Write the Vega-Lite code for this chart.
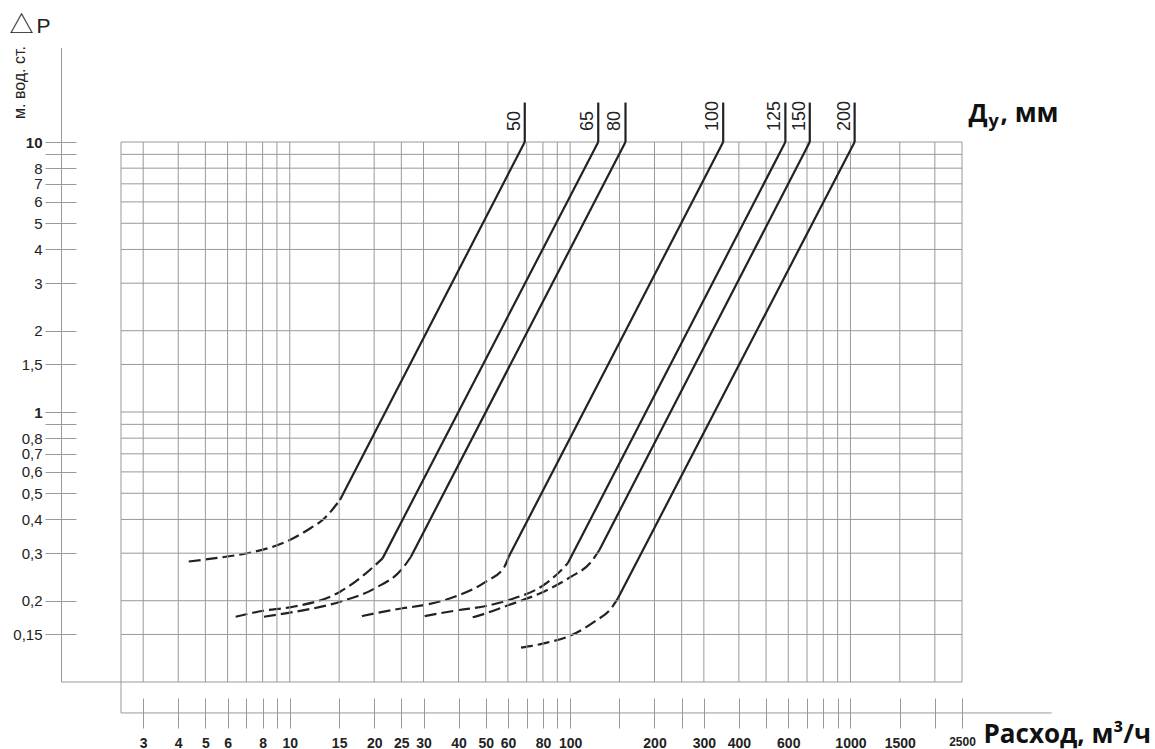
{
  "$schema": "https://vega.github.io/schema/vega-lite/v6.json",
  "width": 841,
  "height": 540,
  "autosize": {"type": "none"},
  "padding": {"left": 121, "top": 142, "right": 193, "bottom": 67},
  "background": "white",
  "config": {"view": {"stroke": null}},
  "datasets": {
    "hgrid": [{"v": 0.15}, {"v": 0.2}, {"v": 0.3}, {"v": 0.4}, {"v": 0.5}, {"v": 0.6}, {"v": 0.7}, {"v": 0.8}, {"v": 0.9}, {"v": 1}, {"v": 1.5}, {"v": 2}, {"v": 3}, {"v": 4}, {"v": 5}, {"v": 6}, {"v": 7}, {"v": 8}, {"v": 9}, {"v": 10}],
    "vgrid": [{"v": 3}, {"v": 4}, {"v": 5}, {"v": 6}, {"v": 7}, {"v": 8}, {"v": 9}, {"v": 10}, {"v": 15}, {"v": 20}, {"v": 25}, {"v": 30}, {"v": 40}, {"v": 50}, {"v": 60}, {"v": 70}, {"v": 80}, {"v": 90}, {"v": 100}, {"v": 150}, {"v": 200}, {"v": 250}, {"v": 300}, {"v": 400}, {"v": 500}, {"v": 600}, {"v": 700}, {"v": 800}, {"v": 900}, {"v": 1000}, {"v": 1500}, {"v": 2000}, {"v": 2500}],
    "curves": [
      {"dn": "50", "seg": "d", "q": 4.36, "p": 0.2795},
      {"dn": "50", "seg": "d", "q": 5.91, "p": 0.291},
      {"dn": "50", "seg": "d", "q": 7.06, "p": 0.2997},
      {"dn": "50", "seg": "d", "q": 10.0, "p": 0.3357},
      {"dn": "50", "seg": "d", "q": 11.89, "p": 0.372},
      {"dn": "50", "seg": "d", "q": 13.09, "p": 0.398},
      {"dn": "50", "seg": "d", "q": 15.1, "p": 0.472},
      {"dn": "50", "seg": "s", "q": 15.1, "p": 0.472},
      {"dn": "50", "seg": "s", "q": 68.9, "p": 10},
      {"dn": "65", "seg": "d", "q": 6.41, "p": 0.1745},
      {"dn": "65", "seg": "d", "q": 8.05, "p": 0.1836},
      {"dn": "65", "seg": "d", "q": 10.0, "p": 0.189},
      {"dn": "65", "seg": "d", "q": 15.12, "p": 0.216},
      {"dn": "65", "seg": "d", "q": 18.68, "p": 0.2527},
      {"dn": "65", "seg": "d", "q": 21.43, "p": 0.287},
      {"dn": "65", "seg": "s", "q": 21.43, "p": 0.287},
      {"dn": "65", "seg": "s", "q": 126, "p": 10},
      {"dn": "80", "seg": "d", "q": 8.09, "p": 0.1745},
      {"dn": "80", "seg": "d", "q": 10.0, "p": 0.1806},
      {"dn": "80", "seg": "d", "q": 15.12, "p": 0.1983},
      {"dn": "80", "seg": "d", "q": 20.12, "p": 0.2223},
      {"dn": "80", "seg": "d", "q": 25.26, "p": 0.2637},
      {"dn": "80", "seg": "d", "q": 27.05, "p": 0.291},
      {"dn": "80", "seg": "s", "q": 27.05, "p": 0.291},
      {"dn": "80", "seg": "s", "q": 157.6, "p": 10},
      {"dn": "100", "seg": "d", "q": 18.08, "p": 0.1755},
      {"dn": "100", "seg": "d", "q": 25.26, "p": 0.1875},
      {"dn": "100", "seg": "d", "q": 30.27, "p": 0.1928},
      {"dn": "100", "seg": "d", "q": 40.24, "p": 0.21},
      {"dn": "100", "seg": "d", "q": 50.1, "p": 0.2352},
      {"dn": "100", "seg": "d", "q": 58.3, "p": 0.2673},
      {"dn": "100", "seg": "d", "q": 60.4, "p": 0.291},
      {"dn": "100", "seg": "s", "q": 60.4, "p": 0.291},
      {"dn": "100", "seg": "s", "q": 351.6, "p": 10},
      {"dn": "125", "seg": "d", "q": 30.27, "p": 0.1755},
      {"dn": "125", "seg": "d", "q": 40.24, "p": 0.1848},
      {"dn": "125", "seg": "d", "q": 50.1, "p": 0.1912},
      {"dn": "125", "seg": "d", "q": 60.4, "p": 0.2012},
      {"dn": "125", "seg": "d", "q": 80.5, "p": 0.2287},
      {"dn": "125", "seg": "d", "q": 90.6, "p": 0.2527},
      {"dn": "125", "seg": "d", "q": 98.1, "p": 0.2752},
      {"dn": "125", "seg": "s", "q": 98.1, "p": 0.2752},
      {"dn": "125", "seg": "s", "q": 586, "p": 10},
      {"dn": "150", "seg": "d", "q": 44.93, "p": 0.1736},
      {"dn": "150", "seg": "d", "q": 50.1, "p": 0.1797},
      {"dn": "150", "seg": "d", "q": 60.4, "p": 0.1928},
      {"dn": "150", "seg": "d", "q": 80.5, "p": 0.216},
      {"dn": "150", "seg": "d", "q": 100.8, "p": 0.2455},
      {"dn": "150", "seg": "d", "q": 117.9, "p": 0.2757},
      {"dn": "150", "seg": "d", "q": 127.2, "p": 0.3083},
      {"dn": "150", "seg": "s", "q": 127.2, "p": 0.3083},
      {"dn": "150", "seg": "s", "q": 716, "p": 10},
      {"dn": "200", "seg": "d", "q": 66.8, "p": 0.134},
      {"dn": "200", "seg": "d", "q": 80.5, "p": 0.139},
      {"dn": "200", "seg": "d", "q": 100.8, "p": 0.149},
      {"dn": "200", "seg": "d", "q": 122.1, "p": 0.1672},
      {"dn": "200", "seg": "d", "q": 140.1, "p": 0.1875},
      {"dn": "200", "seg": "d", "q": 148.1, "p": 0.2042},
      {"dn": "200", "seg": "s", "q": 148.1, "p": 0.2042},
      {"dn": "200", "seg": "s", "q": 1035, "p": 10}
    ],
    "labels": [
      {"dn": "50", "q": 68.9},
      {"dn": "65", "q": 126},
      {"dn": "80", "q": 157.6},
      {"dn": "100", "q": 351.6},
      {"dn": "125", "q": 586},
      {"dn": "150", "q": 716},
      {"dn": "200", "q": 1035}
    ]
  },
  "layer": [
    {
      "data": {"name": "curves"},
      "transform": [{"filter": "datum.seg == 'd'"}],
      "mark": {"type": "line", "color": "#222222", "strokeWidth": 2.2, "strokeDash": [12, 5], "interpolate": "monotone"},
      "encoding": {
        "detail": {"field": "dn"},
        "x": {
          "field": "q", "type": "quantitative",
          "scale": {"type": "log", "domain": [2.5, 2500], "nice": false},
          "axis": {
            "values": [3, 4, 5, 6, 7, 8, 9, 10, 15, 20, 25, 30, 40, 50, 60, 70, 80, 90, 100, 150, 200, 250, 300, 400, 500, 600, 700, 800, 900, 1000, 1500, 2000, 2500],
            "labelExpr": "indexof([7, 9, 70, 90, 150, 250, 500, 700, 800, 900, 2000], datum.value) >= 0 ? '' : toString(datum.value)",
            "offset": 16, "tickSize": 30, "domain": false, "grid": false,
            "tickColor": "#999999", "tickWidth": 1,
            "labelFont": "Liberation Sans", "labelFontWeight": "bold", "labelColor": "#222222",
            "labelFontSize": {"condition": {"test": "datum.value == 2500", "value": 12}, "value": 14},
            "labelPadding": 8, "labelOverlap": false, "labelFlush": false, "labelBound": false,
            "title": "Расход, м³/ч", "titleFont": "Open Sans", "titleFontSize": 26, "titleFontWeight": "bold", "titleColor": "#111111",
            "titleX": 862, "titleY": 44, "titleAlign": "left", "titleBaseline": "alphabetic", "titleAngle": 0
          }
        },
        "y": {
          "field": "p", "type": "quantitative",
          "scale": {"type": "log", "domain": [0.1, 10], "nice": false},
          "axis": {
            "values": [0.15, 0.2, 0.3, 0.4, 0.5, 0.6, 0.7, 0.8, 0.9, 1, 1.5, 2, 3, 4, 5, 6, 7, 8, 9, 10],
            "labelExpr": "datum.value == 0.9 || datum.value == 9 ? '' : replace(toString(datum.value), '.', ',')",
            "offset": 45, "tickSize": 31, "domain": false, "grid": false,
            "tickColor": "#999999", "tickWidth": 1,
            "labelFont": "Liberation Sans", "labelColor": "#222222", "labelFontSize": 15,
            "labelFontWeight": {"condition": {"test": "datum.value == 1 || datum.value == 10", "value": "bold"}, "value": "normal"},
            "labelPadding": 3, "labelOverlap": false, "labelFlush": false, "labelBound": false,
            "title": "м. вод. ст.", "titleFont": "Liberation Sans", "titleFontSize": 16, "titleFontWeight": "normal", "titleColor": "#222222",
            "titleAngle": 270, "titleX": -57, "titleY": -60, "titleAlign": "center", "titleBaseline": "middle"
          }
        }
      }
    },
    {
      "data": {"name": "hgrid"},
      "mark": {"type": "rule", "color": "#999999", "strokeWidth": 1},
      "encoding": {
        "y": {"field": "v", "type": "quantitative", "scale": {"type": "log", "domain": [0.1, 10], "nice": false}},
        "x": {"datum": 2.5, "type": "quantitative", "scale": {"type": "log", "domain": [2.5, 2500], "nice": false}},
        "x2": {"datum": 2500}
      }
    },
    {
      "data": {"name": "vgrid"},
      "mark": {"type": "rule", "color": "#999999", "strokeWidth": 1},
      "encoding": {
        "x": {"field": "v", "type": "quantitative", "scale": {"type": "log", "domain": [2.5, 2500], "nice": false}},
        "y": {"datum": 0.1, "type": "quantitative", "scale": {"type": "log", "domain": [0.1, 10], "nice": false}},
        "y2": {"datum": 10}
      }
    },
    {
      "data": {"values": [{}]},
      "mark": {"type": "rule", "color": "#999999", "strokeWidth": 1},
      "encoding": {
        "y": {"datum": 0.1, "type": "quantitative", "scale": {"type": "log", "domain": [0.1, 10], "nice": false}},
        "x": {"datum": 1.534, "type": "quantitative", "scale": {"type": "log", "domain": [2.5, 2500], "nice": false}},
        "x2": {"datum": 2500}
      }
    },
    {
      "data": {"values": [{}]},
      "mark": {"type": "rule", "color": "#999999", "strokeWidth": 1},
      "encoding": {
        "x": {"datum": 2.5, "type": "quantitative", "scale": {"type": "log", "domain": [2.5, 2500], "nice": false}},
        "y": {"datum": 0.0768, "type": "quantitative", "scale": {"type": "log", "domain": [0.1, 10], "nice": false}},
        "y2": {"datum": 10}
      }
    },
    {
      "data": {"values": [{}]},
      "mark": {"type": "rule", "color": "#999999", "strokeWidth": 1},
      "encoding": {
        "x": {"datum": 1.534, "type": "quantitative", "scale": {"type": "log", "domain": [2.5, 2500], "nice": false}},
        "y": {"datum": 0.1, "type": "quantitative", "scale": {"type": "log", "domain": [0.1, 10], "nice": false}},
        "y2": {"datum": 22.3}
      }
    },
    {
      "data": {"values": [{}]},
      "mark": {"type": "rule", "color": "#999999", "strokeWidth": 1},
      "encoding": {
        "y": {"datum": 0.0768, "type": "quantitative", "scale": {"type": "log", "domain": [0.1, 10], "nice": false}},
        "x": {"datum": 2.5, "type": "quantitative", "scale": {"type": "log", "domain": [2.5, 2500], "nice": false}},
        "x2": {"datum": 5224}
      }
    },
    {
      "data": {"name": "curves"},
      "transform": [{"filter": "datum.seg == 's'"}],
      "mark": {"type": "line", "color": "#222222", "strokeWidth": 2.2},
      "encoding": {
        "detail": {"field": "dn"},
        "x": {"field": "q", "type": "quantitative", "scale": {"type": "log", "domain": [2.5, 2500], "nice": false}},
        "y": {"field": "p", "type": "quantitative", "scale": {"type": "log", "domain": [0.1, 10], "nice": false}}
      }
    },
    {
      "data": {"name": "labels"},
      "mark": {"type": "rule", "color": "#222222", "strokeWidth": 2.2},
      "encoding": {
        "x": {"field": "q", "type": "quantitative", "scale": {"type": "log", "domain": [2.5, 2500], "nice": false}},
        "y": {"datum": 10, "type": "quantitative", "scale": {"type": "log", "domain": [0.1, 10], "nice": false}},
        "y2": {"datum": 14}
      }
    },
    {
      "data": {"name": "labels"},
      "mark": {"type": "text", "angle": 270, "align": "left", "baseline": "alphabetic", "dx": 11, "dy": -5, "font": "Liberation Sans", "fontSize": 18, "color": "#222222"},
      "encoding": {
        "text": {"field": "dn"},
        "x": {"field": "q", "type": "quantitative", "scale": {"type": "log", "domain": [2.5, 2500], "nice": false}},
        "y": {"datum": 10, "type": "quantitative", "scale": {"type": "log", "domain": [0.1, 10], "nice": false}}
      }
    },
    {
      "data": {"values": [{"t": "△"}]},
      "mark": {"type": "text", "align": "left", "baseline": "alphabetic", "font": "Noto Sans CJK JP", "fontSize": 24, "color": "#222222"},
      "encoding": {
        "text": {"field": "t"},
        "x": {"datum": 1.0, "type": "quantitative", "scale": {"type": "log", "domain": [2.5, 2500], "nice": false}},
        "y": {"datum": 25.3, "type": "quantitative", "scale": {"type": "log", "domain": [0.1, 10], "nice": false}}
      }
    },
    {
      "data": {"values": [{"t": "P"}]},
      "mark": {"type": "text", "align": "left", "baseline": "alphabetic", "dx": 27, "font": "Liberation Sans", "fontSize": 21, "color": "#222222"},
      "encoding": {
        "text": {"field": "t"},
        "x": {"datum": 1.0, "type": "quantitative", "scale": {"type": "log", "domain": [2.5, 2500], "nice": false}},
        "y": {"datum": 25.3, "type": "quantitative", "scale": {"type": "log", "domain": [0.1, 10], "nice": false}}
      }
    },
    {
      "data": {"values": [{"t": "Д"}]},
      "mark": {"type": "text", "align": "left", "baseline": "alphabetic", "font": "Open Sans", "fontWeight": "bold", "fontSize": 25, "color": "#111111"},
      "encoding": {
        "text": {"field": "t"},
        "x": {"datum": 2637, "type": "quantitative", "scale": {"type": "log", "domain": [2.5, 2500], "nice": false}},
        "y": {"datum": 11.86, "type": "quantitative", "scale": {"type": "log", "domain": [0.1, 10], "nice": false}}
      }
    },
    {
      "data": {"values": [{"t": "у"}]},
      "mark": {"type": "text", "align": "left", "baseline": "alphabetic", "dx": 20, "dy": 5, "font": "Open Sans", "fontWeight": "bold", "fontSize": 18, "color": "#111111"},
      "encoding": {
        "text": {"field": "t"},
        "x": {"datum": 2637, "type": "quantitative", "scale": {"type": "log", "domain": [2.5, 2500], "nice": false}},
        "y": {"datum": 11.86, "type": "quantitative", "scale": {"type": "log", "domain": [0.1, 10], "nice": false}}
      }
    },
    {
      "data": {"values": [{"t": ", мм"}]},
      "mark": {"type": "text", "align": "left", "baseline": "alphabetic", "dx": 32, "font": "Open Sans", "fontWeight": "bold", "fontSize": 26, "color": "#111111"},
      "encoding": {
        "text": {"field": "t"},
        "x": {"datum": 2637, "type": "quantitative", "scale": {"type": "log", "domain": [2.5, 2500], "nice": false}},
        "y": {"datum": 11.86, "type": "quantitative", "scale": {"type": "log", "domain": [0.1, 10], "nice": false}}
      }
    }
  ]
}
